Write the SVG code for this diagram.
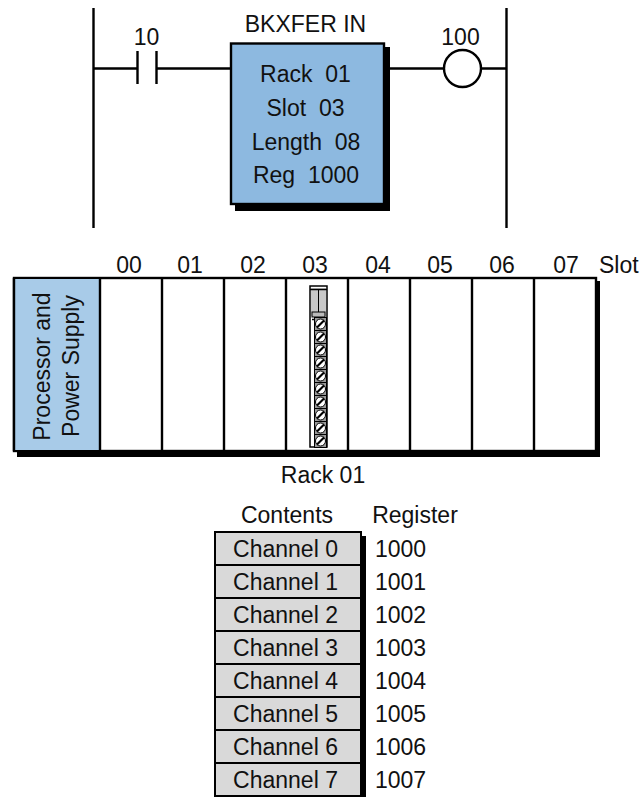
<svg xmlns="http://www.w3.org/2000/svg" width="641" height="797" viewBox="0 0 641 797">
<style>
text{font-family:"Liberation Sans",Arial,sans-serif;font-size:23px;fill:#111;white-space:pre}
.m{text-anchor:middle}
.ln{stroke:#000;stroke-width:2.400;fill:none}
.sh{fill:#000}
.cell{fill:#d9d9d9;stroke:#000;stroke-width:2}
.t{fill:#999;stroke:#000;stroke-width:1}
.sc{fill:#fff;stroke:#000;stroke-width:1}
</style>
<defs>
<g id="term"><rect class="t" x="314.500" y="-6.500" width="12" height="13"/><circle class="sc" cx="320.500" cy="0" r="5"/><path d="M317 3.500L324-3.500" stroke="#000" stroke-width="2.200"/></g>
</defs>
<rect width="641" height="797" fill="#fff"/>
<g id="connectors">
<path class="ln" d="M93.500 8V228M506.500 8V228M93.500 68.500H137.500M156.500 68.500H231M390 68.500H444M481 68.500H506.500"/>
</g>
<g id="contact">
<path class="ln" d="M137.500 51V84M156.500 51V84"/>
<text class="m" x="146.500" y="44.500">10</text>
</g>
<g id="block">
<rect class="sh" x="235" y="47" width="155" height="164"/>
<rect x="231" y="43.500" width="153" height="160.500" fill="#8db9e0" stroke="#000" stroke-width="2.400"/>
<text class="m" x="305.500" y="31.500">BKXFER IN</text>
<text class="m" x="305.500" y="82">Rack  01</text>
<text class="m" x="305.500" y="116">Slot  03</text>
<text class="m" x="306" y="149.500">Length  08</text>
<text class="m" x="306" y="183">Reg  1000</text>
</g>
<g id="coil">
<circle cx="462.500" cy="68.500" r="18.500" fill="#fff" stroke="#000" stroke-width="2.400"/>
<text class="m" x="460.500" y="44.500">100</text>
</g>
<g id="rack">
<rect class="sh" x="17" y="281" width="583" height="176"/>
<rect x="14" y="278" width="582" height="173" fill="#fff" stroke="#000" stroke-width="2.400"/>
<rect x="15" y="279" width="85" height="171" fill="#a8cbe8"/>
<path class="ln" d="M14 278V451M100 278V451M162 278V451M224 278V451M286 278V451M348 278V451M410 278V451M472 278V451M534 278V451"/>
<text class="m" transform="translate(49.500 366.500) rotate(-90)">Processor and</text>
<text class="m" transform="translate(78.500 366) rotate(-90)">Power Supply</text>
<text class="m" x="129" y="272.500">00</text><text class="m" x="190" y="272.500">01</text><text class="m" x="253" y="272.500">02</text><text class="m" x="315" y="272.500">03</text><text class="m" x="378" y="272.500">04</text><text class="m" x="440" y="272.500">05</text><text class="m" x="502" y="272.500">06</text><text class="m" x="566" y="272.500">07</text>
<text x="599" y="272.500">Slot</text>
<text class="m" x="323" y="482.500">Rack 01</text>
</g>
<g id="module">
<rect x="310" y="286" width="17" height="161" fill="#fff" stroke="#000" stroke-width="1.500"/>
<rect x="311" y="288" width="15" height="28" fill="#c8c8c8"/>
<path d="M318.500 290V312" stroke="#000" stroke-width="1"/>
<path d="M310 289.500H327" stroke="#000" stroke-width="1.500"/>
<rect x="312" y="312" width="13" height="5" fill="#bbb" stroke="#000" stroke-width="1"/>
<path d="M312 319.500H326" stroke="#000" stroke-width="1.500"/>
<use href="#term" y="324"/><use href="#term" y="337"/><use href="#term" y="350"/><use href="#term" y="363"/><use href="#term" y="376"/><use href="#term" y="389"/><use href="#term" y="402"/><use href="#term" y="415"/><use href="#term" y="428"/><use href="#term" y="441"/>
</g>
<g id="table">
<rect class="sh" x="219" y="536" width="147" height="261"/>
<rect class="cell" x="215" y="532" width="146" height="33"/><rect class="cell" x="215" y="565" width="146" height="33"/><rect class="cell" x="215" y="598" width="146" height="33"/><rect class="cell" x="215" y="631" width="146" height="33"/><rect class="cell" x="215" y="664" width="146" height="33"/><rect class="cell" x="215" y="697" width="146" height="33"/><rect class="cell" x="215" y="730" width="146" height="33"/><rect class="cell" x="215" y="763" width="146" height="33"/>
<text class="m" x="287" y="522.500">Contents</text><text class="m" x="415" y="522.500">Register</text>
<text class="m" x="285.500" y="556.500">Channel 0</text><text class="m" x="285.500" y="589.500">Channel 1</text><text class="m" x="285.500" y="622.500">Channel 2</text><text class="m" x="285.500" y="655.500">Channel 3</text><text class="m" x="285.500" y="688.500">Channel 4</text><text class="m" x="285.500" y="721.500">Channel 5</text><text class="m" x="285.500" y="754.500">Channel 6</text><text class="m" x="285.500" y="787.500">Channel 7</text>
<text x="375" y="556.500">1000</text><text x="375" y="589.500">1001</text><text x="375" y="622.500">1002</text><text x="375" y="655.500">1003</text><text x="375" y="688.500">1004</text><text x="375" y="721.500">1005</text><text x="375" y="754.500">1006</text><text x="375" y="787.500">1007</text>
</g>
</svg>
